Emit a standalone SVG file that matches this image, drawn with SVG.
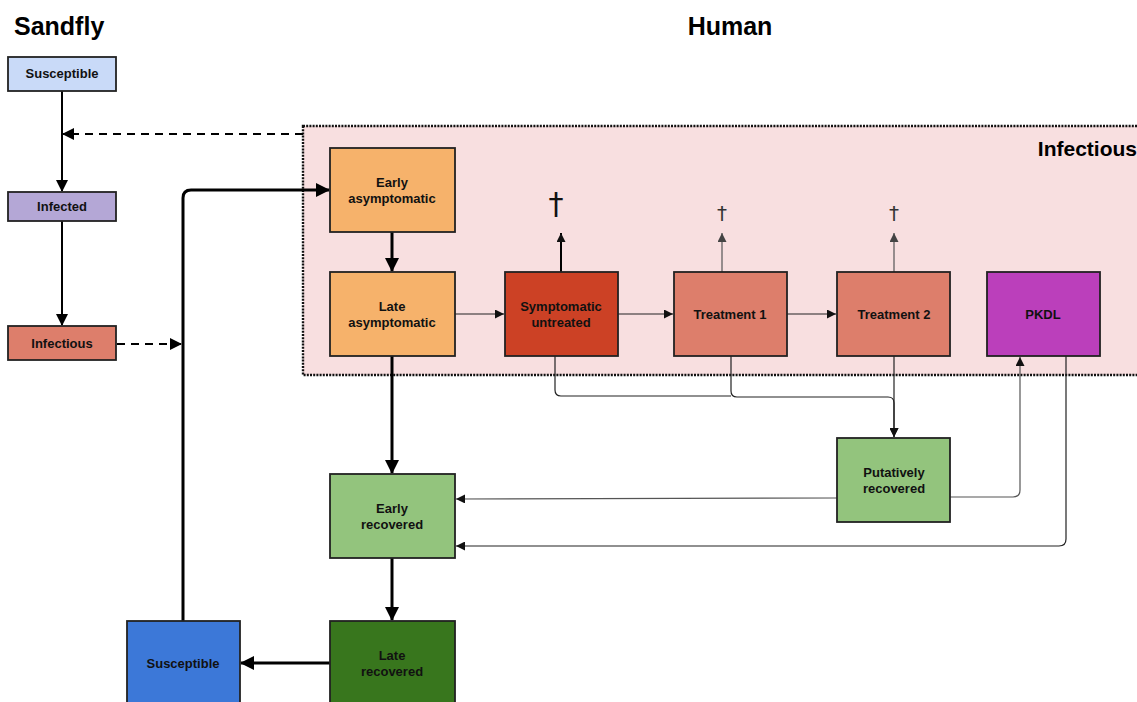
<svg xmlns="http://www.w3.org/2000/svg" width="1137" height="702" viewBox="0 0 1137 702">
<style>
.n{stroke:#222;stroke-width:1.8}
.t{font-family:"Liberation Sans",Arial,sans-serif;font-weight:bold;font-size:13px;fill:#111;text-anchor:middle}
.h{font-family:"Liberation Sans",Arial,sans-serif;font-weight:bold;font-size:25px;fill:#000}
.thick{fill:none;stroke:#000;stroke-width:3}
.med{fill:none;stroke:#000;stroke-width:2}
.thin{fill:none;stroke:#222;stroke-width:1.2}
.gray{fill:none;stroke:#555;stroke-width:1.2}
.dash{fill:none;stroke:#000;stroke-width:2;stroke-dasharray:8,6}
.dag{font-family:"DejaVu Sans",sans-serif;text-anchor:middle}
</style>
<defs>
<marker id="aL" markerWidth="12" markerHeight="12" refX="11" refY="6" orient="auto" markerUnits="userSpaceOnUse" viewBox="0 0 12 12"><path d="M0,0 L12,6 L0,12 z" fill="#000"/></marker>
<marker id="aXL" markerWidth="14" markerHeight="14" refX="13" refY="7" orient="auto" markerUnits="userSpaceOnUse" viewBox="0 0 14 14"><path d="M0,0 L14,7 L0,14 z" fill="#000"/></marker>
<marker id="aS" markerWidth="9" markerHeight="9" refX="9" refY="4.5" orient="auto" markerUnits="userSpaceOnUse" viewBox="0 0 9 9"><path d="M0,0 L9,4.5 L0,9 z" fill="#111"/></marker>
<marker id="aG" markerWidth="9" markerHeight="9" refX="9" refY="4.5" orient="auto" markerUnits="userSpaceOnUse" viewBox="0 0 9 9"><path d="M0,0 L9,4.5 L0,9 z" fill="#444"/></marker>
</defs>

<rect x="0" y="0" width="1137" height="702" fill="#fff"/>

<g id="titles">
<text class="h" x="14" y="35">Sandfly</text>
<text class="h" x="730" y="35" text-anchor="middle">Human</text>
</g>

<g id="infectious-region">
<rect x="303" y="126" width="840" height="249" fill="#f8dfe0" stroke="#111" stroke-width="2.4" stroke-dasharray="2,1.2"/>
<text x="1137" y="156" text-anchor="end" font-family="Liberation Sans,Arial,sans-serif" font-weight="bold" font-size="21" fill="#000">Infectious</text>
</g>

<g id="connectors">
<line class="med" x1="62" y1="91" x2="62" y2="191" marker-end="url(#aL)"/>
<line class="dash" x1="303" y1="134" x2="63" y2="134" marker-end="url(#aL)"/>
<line class="med" x1="62" y1="221" x2="62" y2="325" marker-end="url(#aL)"/>
<line class="dash" x1="117" y1="344" x2="181" y2="344" marker-end="url(#aL)"/>
<path class="thick" d="M183,621 V198 Q183,190 191,190 H329" marker-end="url(#aXL)"/>
<line class="thick" x1="392" y1="232" x2="392" y2="271" marker-end="url(#aXL)"/>
<line class="thin" x1="455" y1="314" x2="504" y2="314" marker-end="url(#aS)"/>
<line class="thin" x1="618" y1="314" x2="673" y2="314" marker-end="url(#aS)"/>
<line class="thin" x1="787" y1="314" x2="836" y2="314" marker-end="url(#aS)"/>
<line class="thick" x1="392" y1="356" x2="392" y2="473" marker-end="url(#aXL)"/>
<line class="thick" x1="392" y1="558" x2="392" y2="620" marker-end="url(#aXL)"/>
<line class="thick" x1="330" y1="663" x2="241" y2="663" marker-end="url(#aXL)"/>
<path class="thin" d="M555,356 V390 Q555,396 561,396 H731"/>
<path class="thin" d="M731,356 V391 Q731,397 737,397 H888 Q894,397 894,403 V437" marker-end="url(#aS)"/>
<line class="thin" x1="894" y1="356" x2="894" y2="437" marker-end="url(#aS)"/>
<line class="gray" x1="837" y1="498" x2="456" y2="499" marker-end="url(#aS)"/>
<path class="gray" d="M950,497 H1013 Q1020,497 1020,490 V357" marker-end="url(#aS)"/>
<path class="thin" d="M1066,356 V539 Q1066,546 1059,546 H456" marker-end="url(#aS)"/>
<line class="med" x1="561" y1="272" x2="561" y2="233" marker-end="url(#aS)"/>
<line class="gray" x1="722" y1="272" x2="722" y2="233" marker-end="url(#aG)"/>
<line class="gray" x1="894" y1="272" x2="894" y2="233" marker-end="url(#aG)"/>
</g>

<g id="deaths">
<text class="dag" x="556" y="214" font-size="30" fill="#111">†</text>
<text class="dag" x="722" y="220" font-size="20" fill="#333">†</text>
<text class="dag" x="894" y="220" font-size="20" fill="#333">†</text>
</g>

<g id="sandfly-susceptible"><rect class="n" x="8" y="57" width="108" height="34" fill="#c9daf8"/><text class="t" x="62" y="78">Susceptible</text></g>
<g id="sandfly-infected"><rect class="n" x="8" y="192" width="108" height="29" fill="#b4a7d6"/><text class="t" x="62" y="211">Infected</text></g>
<g id="sandfly-infectious"><rect class="n" x="8" y="326" width="108" height="34" fill="#dd7e6b"/><text class="t" x="62" y="348">Infectious</text></g>

<g id="early-asymptomatic"><rect class="n" x="330" y="148" width="125" height="84" fill="#f6b26b"/><text class="t" x="392" y="187">Early</text><text class="t" x="392" y="203">asymptomatic</text></g>
<g id="late-asymptomatic"><rect class="n" x="330" y="272" width="125" height="84" fill="#f6b26b"/><text class="t" x="392" y="311">Late</text><text class="t" x="392" y="327">asymptomatic</text></g>
<g id="symptomatic-untreated"><rect class="n" x="505" y="272" width="113" height="84" fill="#cc4125"/><text class="t" x="561" y="311">Symptomatic</text><text class="t" x="561" y="327">untreated</text></g>
<g id="treatment-1"><rect class="n" x="674" y="272" width="113" height="84" fill="#dd7e6b"/><text class="t" x="730" y="319">Treatment 1</text></g>
<g id="treatment-2"><rect class="n" x="837" y="272" width="113" height="84" fill="#dd7e6b"/><text class="t" x="894" y="319">Treatment 2</text></g>
<g id="pkdl"><rect class="n" x="987" y="272" width="113" height="84" fill="#bb3fbb" stroke="#111"/><text class="t" x="1043" y="319">PKDL</text></g>
<g id="putatively-recovered"><rect class="n" x="837" y="438" width="113" height="84" fill="#93c47d"/><text class="t" x="894" y="477">Putatively</text><text class="t" x="894" y="493">recovered</text></g>
<g id="early-recovered"><rect class="n" x="330" y="474" width="125" height="84" fill="#93c47d"/><text class="t" x="392" y="513">Early</text><text class="t" x="392" y="529">recovered</text></g>
<g id="late-recovered"><rect class="n" x="330" y="621" width="125" height="84" fill="#38761d"/><text class="t" x="392" y="660">Late</text><text class="t" x="392" y="676">recovered</text></g>
<g id="human-susceptible"><rect class="n" x="127" y="621" width="113" height="84" fill="#3c78d8"/><text class="t" x="183" y="668">Susceptible</text></g>
</svg>
